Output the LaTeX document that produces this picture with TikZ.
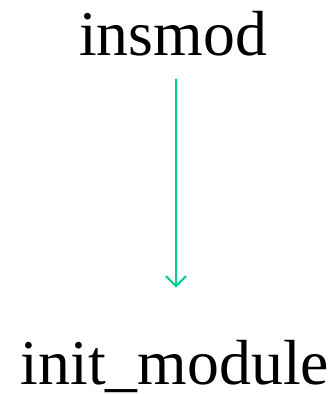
\documentclass[tikz,border=0pt]{standalone}
\usepackage{fontspec}
\setmainfont{Liberation Serif}
\usetikzlibrary{arrows.meta}
\definecolor{edgegreen}{RGB}{0,204,150}
\begin{document}
\begin{tikzpicture}[x=1bp,y=1bp,
  lbl/.style={font=\fontsize{64}{64}\selectfont, inner sep=0pt, anchor=base},
  arr/.style={draw=edgegreen, line width=2bp, -{Straight Barb[length=10bp,width=20bp]}}]
\useasboundingbox (0,0) rectangle (334,394);
\node[lbl] (a) at (173,339) {insmod};
\node[lbl] (b) at (175,10) {init\_module};
\draw[arr, shorten <=23bp, shorten >=52bp] ([xshift=3bp]a.south) -- ([xshift=1bp]b.north);
\end{tikzpicture}
\end{document}
